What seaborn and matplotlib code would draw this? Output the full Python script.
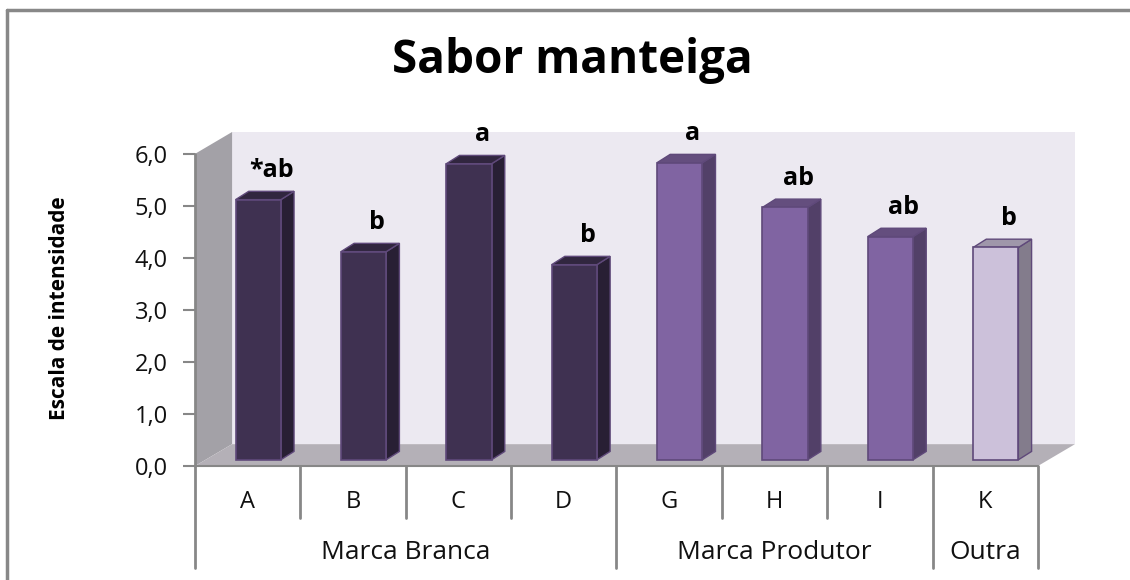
import numpy as np
import pandas as pd
import matplotlib
matplotlib.use('Agg')
import matplotlib.pyplot as plt
from matplotlib.patches import Polygon, Rectangle
from matplotlib.lines import Line2D
import matplotlib.colors as mcolors
import seaborn as sns

# dados do gráfico
produtos = ['A', 'B', 'C', 'D', 'G', 'H', 'I', 'K']
valores = [5.0, 4.0, 5.69, 3.75, 5.71, 4.85, 4.29, 4.08]
grupos = ['Marca Branca'] * 4 + ['Marca Produtor'] * 3 + ['Outra']
letras = ['*ab', 'b', 'a', 'b', 'a', 'ab', 'ab', 'b']
escala = [0, 1, 2, 3, 4, 5, 6]
escala_txt = ['0,0', '1,0', '2,0', '3,0', '4,0', '5,0', '6,0']

cores = {'Marca Branca': '#3F3151', 'Marca Produtor': '#8064A2', 'Outra': '#CCC1DA'}

sns.set_theme(style='white')
plt.rcParams['font.family'] = ['Open Sans', 'DejaVu Sans']

df = pd.DataFrame({'produto': produtos, 'valor': valores, 'grupo': grupos})

fig = plt.figure(figsize=(11.3, 5.8), dpi=100)
ax = fig.add_axes([195 / 1130, 1 - 466 / 580, 880 / 1130, 334 / 580])

# profundidade do "3D"
W, H = 0.352, 0.42      # paredes
DX, DY = 0.10, 0.12     # face da frente das barras
BX, BY = 0.125, 0.16    # espessura das barras
n = len(produtos)

# paredes e chão
ax.add_patch(Polygon([(-0.5 + W, H), (n - 0.5 + W, H), (n - 0.5 + W, 6 + H), (-0.5 + W, 6 + H)],
                     closed=True, fc='#ECE9F1', ec='none', zorder=0))
ax.add_patch(Polygon([(-0.5, 0), (-0.5 + W, H), (-0.5 + W, 6 + H), (-0.5, 6)],
                     closed=True, fc='#A3A1A7', ec='none', zorder=0.5))
ax.add_patch(Polygon([(-0.5, 0), (n - 0.5, 0), (n - 0.5 + W, H), (-0.5 + W, H)],
                     closed=True, fc='#B4B0B7', ec='none', zorder=0.5))

sns.barplot(data=df, x='produto', y='valor', hue='grupo', palette=cores, dodge=False,
            width=0.43, saturation=1, edgecolor='#5F497A', linewidth=1.2, legend=False,
            ax=ax, zorder=3)

for p in list(ax.patches):
    if not isinstance(p, Rectangle):
        continue
    x0, w, h = p.get_x(), p.get_width(), p.get_height()
    if h <= 0:
        continue
    x0 = x0 + DX
    p.set_x(x0)
    p.set_y(DY)
    rgb = np.array(mcolors.to_rgb(p.get_facecolor()))
    lado = [(x0 + w, DY), (x0 + w + BX, DY + BY), (x0 + w + BX, DY + BY + h), (x0 + w, DY + h)]
    topo = [(x0, DY + h), (x0 + BX, DY + h + BY), (x0 + w + BX, DY + h + BY), (x0 + w, DY + h)]
    ax.add_patch(Polygon(lado, closed=True, fc=rgb * 0.64, ec='#5F497A', lw=1.0, zorder=2.9))
    ax.add_patch(Polygon(topo, closed=True, fc=rgb * 0.78, ec='#5F497A', lw=1.0, zorder=2.9))

# letras de significância
for i, (v, t) in enumerate(zip(valores, letras)):
    ax.text(i + DX + BX, DY + v + BY + 0.4, t, ha='center', va='center',
            fontsize=18, fontweight='bold', color='black', zorder=5)

ax.set_xlim(-0.5, n - 0.5 + W)
ax.set_ylim(0, 6 + H)
for s in ax.spines.values():
    s.set_visible(False)
ax.set_xticks([])
ax.set_xlabel('')
ax.set_yticks(escala)
ax.set_yticklabels(escala_txt, fontsize=17, color='#111111')
ax.tick_params(axis='y', left=True, length=8.5, width=1.5, color='#878787', pad=11)
ax.set_ylabel('Escala de intensidade', fontsize=15, fontweight='bold', color='black')
ax.yaxis.set_label_coords(-0.142, 0.473)

# eixos
linha = '#878787'
ax.plot([-0.5, -0.5], [0, 6], color=linha, lw=2, clip_on=False, zorder=4)
ax.plot([-0.5, n - 0.5], [0, 0], color=linha, lw=1.5, clip_on=False, zorder=4)

# rótulos de categoria e grupos
for i, prod in enumerate(produtos):
    ax.text(i, -0.69, prod, ha='center', va='center', fontsize=17, color='#111111', clip_on=False)
for i in range(n + 1):
    xg = i - 0.5
    longa = i == 0 or i == n or grupos[i] != grupos[i - 1]
    ax.plot([xg, xg], [0, -1.96 if longa else -1.0], color=linha, lw=2, clip_on=False, zorder=4)

ini = 0
for i in range(1, n + 1):
    if i == n or grupos[i] != grupos[ini]:
        ax.text((ini + i - 1) / 2, -1.67, grupos[ini], ha='center', va='center',
                fontsize=19, color='#111111', clip_on=False)
        ini = i

fig.text(572 / 1130, 1 - 60 / 580, 'Sabor manteiga', ha='center', va='center',
         fontsize=33, fontweight='bold', color='black')

# moldura (só topo e esquerda aparecem)
topo_y = 1 - 10 / 580
esq_x = 7 / 1130
fig.add_artist(Line2D([esq_x, 1], [topo_y, topo_y], transform=fig.transFigure,
                      color='#888888', lw=2.5))
fig.add_artist(Line2D([esq_x, esq_x], [0, topo_y], transform=fig.transFigure,
                      color='#888888', lw=2.5))

fig.savefig('out.png', dpi=100, facecolor='white')
